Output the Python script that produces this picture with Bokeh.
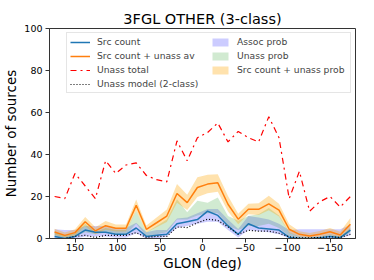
from bokeh.plotting import figure
from bokeh.models import Range1d, Legend, LegendItem, FixedTicker, ColumnDataSource
from bokeh.embed import file_html
from bokeh.resources import INLINE

glon = [174, 162, 150, 138, 126, 114, 102, 90, 78, 66, 54, 42, 30, 18, 6,
        -6, -18, -30, -42, -54, -66, -78, -90, -102, -114, -126, -138, -150, -162, -174]
unass_total = [20, 19, 31, 25, 19, 37, 31, 35, 36, 30, 28, 27, 46.5, 37, 48,
               50.5, 55, 46, 51, 48, 46, 58, 48, 19, 32, 13, 17.5, 20, 15, 20]
src_unass_av = [3.1, 1.5, 2.8, 8, 3.6, 6.1, 4.9, 4.9, 15.8, 4.4, 7.5, 10.7, 21.4, 17.1, 24.3,
                25.9, 26.5, 16.3, 9.2, 13.9, 13.9, 16.5, 13.5, 4.4, 2, 1.2, 2, 3.2, 1.7, 6.8]
src_unass_lo = [1.8, 0.4, 1.4, 6, 2, 4.2, 3.3, 3.3, 13.1, 2.8, 5.3, 7.8, 17, 13.6, 19.8,
                21.6, 22.3, 12.8, 6.8, 11.5, 11.2, 13.5, 10.5, 2.6, 0.8, 0.2, 0.8, 1.8, 0.5, 4.2]
src_unass_hi = [4.6, 2.8, 4.4, 10.2, 5.4, 8.3, 6.7, 6.7, 18.6, 6.2, 10, 13.8, 25.9, 20.8, 29.2,
                30.3, 30.6, 20.2, 11.8, 16.5, 16.8, 20.3, 16.5, 6.8, 3.4, 2.6, 3.6, 5, 3.2, 9.8]
src_count = [1, 0, 1, 4, 3, 3, 2, 2, 5, 1, 1.5, 2, 7, 8, 9,
             13, 11, 6, 2, 7, 5, 4.5, 4, 0.5, 0, 0, 0.3, 1, 0.4, 4]
assoc_lo = [0, 0, 0, 1, 1, 1, 0.5, 0.5, 2.5, 0, 0, 1, 5, 6, 7,
            8, 8, 4, 0.5, 4, 3.5, 3, 2, 0, 0, 0, 0, 0, 0, 1.5]
assoc_hi = [4.4, 4, 4, 6, 6, 6, 5, 5, 7.5, 3, 4, 4, 9.5, 10, 12,
            14, 14, 9, 4.5, 10.7, 10, 9, 7, 4, 4.4, 4.4, 4.4, 4.4, 4.4, 6.5]
unass_lo = [1, 0, 1, 3, 2, 3, 2, 2, 7, 1, 2, 3, 9, 9, 11,
            12, 12, 6, 4, 6, 6, 7, 5, 1, 0, 0, 0, 1, 0, 3]
unass_hi = [3, 1.5, 2.5, 7, 3, 5, 4, 4, 13.1, 3, 6, 9, 18.7, 12.5, 18,
            17, 19.5, 10.7, 8.4, 10.7, 11.5, 14.5, 11, 3, 1, 0.5, 1, 2, 1, 5]
unass_model = [0, 0, 1, 1.5, 0.5, 1.5, 1.5, 1.5, 2.8, 0.5, 1, 1, 5.5, 5.2, 7.5,
               9.2, 8.6, 5.5, 2, 3.9, 3.5, 3.5, 2.5, 0.8, 0.3, 0.3, 0.5, 0.8, 0.5, 2]
x_ticks = [150, 100, 50, 0, -50, -100, -150]
y_ticks = [0, 20, 40, 60, 80, 100]

src = ColumnDataSource(dict(glon=glon, tot=unass_total, av=src_unass_av, av_lo=src_unass_lo,
                            av_hi=src_unass_hi, cnt=src_count, a_lo=assoc_lo, a_hi=assoc_hi,
                            u_lo=unass_lo, u_hi=unass_hi, mod=unass_model))

FONT = "DejaVu Sans"
p = figure(width=374, height=280, output_backend="svg", toolbar_location=None,
           x_range=Range1d(180, -180), y_range=Range1d(0, 100),
           min_border_left=49, min_border_right=19, min_border_top=28, min_border_bottom=42,
           title="3FGL OTHER (3-class)")
p.grid.visible = False
p.outline_line_color = "#333333"
p.outline_line_width = 1
p.background_fill_color = "white"

p.title.align = "center"
p.title.text_font = FONT
p.title.text_font_size = "14.5px"
p.title.text_font_style = "normal"
p.title.text_color = "black"
p.title.standoff = 4
p.title.offset = 0

# fills
r_assoc = p.varea(x="glon", y1="a_lo", y2="a_hi", source=src, fill_color="blue", fill_alpha=0.2)
r_unass = p.varea(x="glon", y1="u_lo", y2="u_hi", source=src, fill_color="#2ca02c", fill_alpha=0.22)
r_band = p.varea(x="glon", y1="av_lo", y2="av_hi", source=src, fill_color="orange", fill_alpha=0.32)

# lines
r_cnt = p.line(x="glon", y="cnt", source=src, line_color="#1f77b4", line_width=1.5)
r_av = p.line(x="glon", y="av", source=src, line_color="#ff7f0e", line_width=1.5)
r_tot = p.line(x="glon", y="tot", source=src, line_color="red", line_width=1.2, line_dash="dashdot")
r_mod = p.line(x="glon", y="mod", source=src, line_color="black", line_width=1.2, line_dash="1 2")

for ax in (p.xaxis[0], p.yaxis[0]):
    ax.major_label_text_font = FONT
    ax.major_label_text_font_size = "9.5px"
    ax.major_label_text_color = "black"
    ax.axis_label_text_font = FONT
    ax.axis_label_text_font_style = "normal"
    ax.axis_label_text_color = "black"
    ax.axis_label_text_font_size = "13.5px"
    ax.minor_tick_line_color = None
    ax.major_tick_out = 4
    ax.major_tick_in = 0
    ax.axis_line_color = "#333333"
    ax.major_tick_line_color = "#333333"

p.xaxis.major_label_standoff = 1
p.yaxis.major_label_standoff = 3
p.xaxis.ticker = FixedTicker(ticks=x_ticks)
p.xaxis.major_label_overrides = {t: (str(t).replace("-", "\u2212")) for t in x_ticks}
p.yaxis.ticker = FixedTicker(ticks=y_ticks)
p.xaxis.axis_label = "GLON (deg)"
p.xaxis.axis_label_standoff = 1
p.yaxis.axis_label = "Number of sources"
p.yaxis.axis_label_standoff = 2

legend = Legend(items=[
    LegendItem(label="Src count", renderers=[r_cnt]),
    LegendItem(label="Src count + unass av", renderers=[r_av]),
    LegendItem(label="Unass total", renderers=[r_tot]),
    LegendItem(label="Unass model (2-class)", renderers=[r_mod]),
    LegendItem(label="Assoc prob", renderers=[r_assoc]),
    LegendItem(label="Unass prob", renderers=[r_unass]),
    LegendItem(label="Src count + unass prob", renderers=[r_band]),
], location="top_right", ncols=2)
legend.label_text_font = FONT
legend.label_text_font_size = "9.2px"
legend.label_height = 10
legend.glyph_height = 10
legend.glyph_width = 20
legend.label_standoff = 7
legend.spacing = 3
legend.padding = 3
legend.margin = 4
legend.border_line_color = "#cccccc"
legend.border_line_width = 1
legend.background_fill_alpha = 0.85
legend.label_width = 110
p.add_layout(legend)

open("out.html", "w").write(file_html(p, INLINE))
